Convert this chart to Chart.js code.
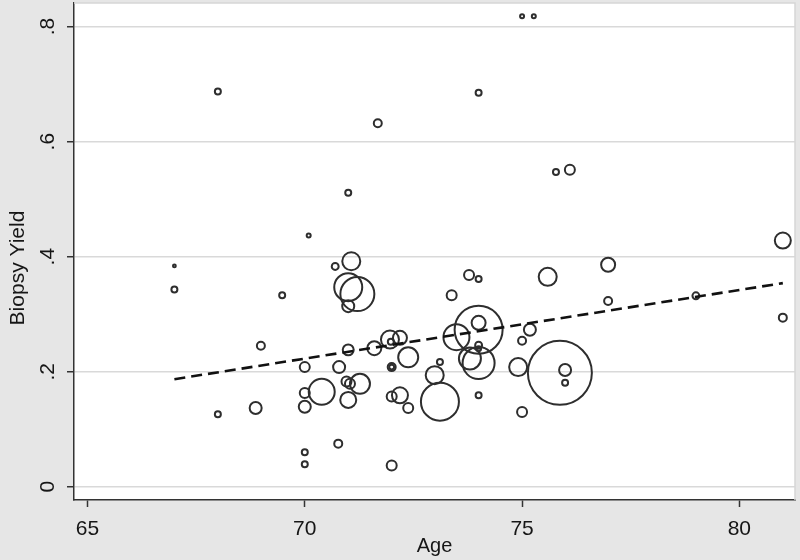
<!DOCTYPE html>
<html lang="en">
<head>
  <meta charset="UTF-8" />
  <title>Biopsy Yield by Age</title>
  <script src="https://cdn.jsdelivr.net/npm/chart.js"></script>
  <style>
    html, body { margin: 0; padding: 0; background: #e6e6e6; }
    #wrap { width: 800px; height: 560px; }
  </style>
</head>
<body>
  <div id="wrap"><canvas id="bubbleChart"></canvas></div>

  <script>
    // ages (x), biopsy yield (y) and bubble weight for each study
    const ages = [
      75.0, 75.27, 68.0, 74.0, 71.68, 75.78, 76.1, 71.0, 70.09, 67.0,
      81.0, 71.07, 70.7, 67.0, 69.48, 71.0, 71.21, 71.0, 73.78, 74.0,
      73.38, 75.59, 74.0, 74.0, 73.49, 75.18, 75.0, 74.0, 74.0, 73.8,
      74.0, 74.91, 73.11, 72.99, 75.87, 75.99, 75.99, 76.98, 76.98, 79.0,
      81.0, 73.11, 74.0, 75.0, 71.0, 71.6, 71.96, 72.19, 71.98, 70.0,
      70.79, 72.0, 72.0, 72.38, 70.0, 70.39, 70.96, 71.04, 71.27, 70.0,
      71.0, 72.0, 72.19, 72.38, 70.77, 70.0, 70.0, 72.0, 68.87, 68.0,
      68.99
    ];
    const yields = [
      0.818, 0.818, 0.687, 0.685, 0.632, 0.547, 0.551, 0.511, 0.437, 0.384,
      0.428, 0.392, 0.383, 0.343, 0.333, 0.347, 0.335, 0.314, 0.368, 0.361,
      0.333, 0.365, 0.273, 0.285, 0.260, 0.273, 0.254, 0.246, 0.240, 0.223,
      0.215, 0.208, 0.217, 0.194, 0.198, 0.203, 0.181, 0.386, 0.323, 0.332,
      0.294, 0.148, 0.159, 0.130, 0.238, 0.241, 0.256, 0.259, 0.252, 0.208,
      0.208, 0.208, 0.208, 0.225, 0.163, 0.165, 0.183, 0.179, 0.179, 0.139,
      0.151, 0.157, 0.159, 0.137, 0.075, 0.060, 0.039, 0.037, 0.137, 0.126,
      0.245
    ];
    const weights = [
      4, 4, 9, 9, 16, 9, 25, 9, 4, 2,
      64, 81, 12, 9, 9, 196, 289, 36, 25, 9,
      25, 81, 576, 49, 169, 36, 16, 12, 6, 121,
      256, 81, 9, 81, 1024, 36, 9, 49, 16, 12,
      16, 361, 9, 25, 30, 49, 81, 49, 9, 25,
      36, 16, 6, 100, 25, 169, 25, 25, 100, 36,
      64, 25, 64, 25, 16, 9, 9, 25, 36, 9,
      16
    ];

    // fitted line (weighted regression), end points
    const fitAges = [67, 81];
    const fitYields = [0.187, 0.354];

    const xTicks = [65, 70, 75, 80];
    const yTicks = [0, 0.2, 0.4, 0.6, 0.8];
    const yTickLabels = ['0', '.2', '.4', '.6', '.8'];

    const xTitle = 'Age';
    const yTitle = 'Biopsy Yield';

    const inkColor = '#161616';
    const fontFamily = '"Liberation Sans", Arial, sans-serif';

    const bubbles = ages.map((a, i) => ({ x: a, y: yields[i], r: Math.sqrt(weights[i]) }));
    const fitLine = fitAges.map((a, i) => ({ x: a, y: fitYields[i] }));

    // no extra label padding around the plot, the layout is fixed
    function noPad(s) {
      s.paddingLeft = 0;
      s.paddingRight = 0;
      s.paddingTop = 0;
      s.paddingBottom = 0;
    }

    // gray page, white plot region, light frame, rotated y labels and titles
    const stataLook = {
      id: 'stataLook',
      beforeDraw(chart) {
        const { ctx, chartArea: a } = chart;
        ctx.save();
        ctx.fillStyle = '#e6e6e6';
        ctx.fillRect(0, 0, chart.width, chart.height);
        ctx.fillStyle = '#ffffff';
        ctx.fillRect(a.left, a.top, a.right - a.left, a.bottom - a.top);
        ctx.restore();
      },
      afterDraw(chart) {
        const { ctx, chartArea: a, scales } = chart;
        ctx.save();
        // top and right frame lines
        ctx.strokeStyle = '#d6d6d6';
        ctx.lineWidth = 1.5;
        ctx.beginPath();
        ctx.moveTo(a.left, a.top);
        ctx.lineTo(a.right, a.top);
        ctx.lineTo(a.right, a.bottom);
        ctx.stroke();

        ctx.fillStyle = inkColor;
        ctx.textAlign = 'center';
        ctx.textBaseline = 'middle';

        // y tick labels, rotated
        ctx.font = '21px ' + fontFamily;
        yTicks.forEach((v, i) => {
          const py = scales.y.getPixelForValue(v);
          ctx.save();
          ctx.translate(48, py);
          ctx.rotate(-Math.PI / 2);
          ctx.fillText(yTickLabels[i], 0, 0);
          ctx.restore();
        });

        // axis titles
        ctx.save();
        ctx.translate(18, 268);
        ctx.rotate(-Math.PI / 2);
        ctx.fillText(yTitle, 0, 0);
        ctx.restore();

        ctx.font = '20px ' + fontFamily;
        ctx.fillText(xTitle, (a.left + a.right) / 2, 546);
        ctx.restore();
      }
    };

    new Chart(document.getElementById('bubbleChart'), {
      type: 'bubble',
      data: {
        datasets: [
          {
            type: 'line',
            data: fitLine,
            borderColor: '#111111',
            borderWidth: 2.6,
            borderDash: [11, 6],
            pointRadius: 0,
            fill: false,
            order: 0
          },
          {
            data: bubbles,
            backgroundColor: 'rgba(0,0,0,0)',
            borderColor: '#2e2e2e',
            borderWidth: 2,
            order: 1
          }
        ]
      },
      options: {
        responsive: true,
        maintainAspectRatio: false,
        animation: false,
        layout: { autoPadding: false, padding: { top: 3, right: 5, left: 0, bottom: 0 } },
        plugins: {
          legend: { display: false },
          tooltip: { enabled: false }
        },
        scales: {
          x: {
            type: 'linear',
            min: 64.69,
            max: 81.28,
            afterBuildTicks: s => { s.ticks = xTicks.map(v => ({ value: v })); },
            afterFit: s => { s.height = 60; noPad(s); },
            ticks: {
              color: inkColor,
              font: { family: fontFamily, size: 21 },
              padding: 10,
              maxRotation: 0
            },
            grid: {
              drawOnChartArea: false,
              drawTicks: true,
              tickLength: 7,
              tickColor: '#333333',
              tickWidth: 1.5
            },
            border: { color: '#333333', width: 1.5 }
          },
          y: {
            type: 'linear',
            min: -0.023,
            max: 0.841,
            afterBuildTicks: s => { s.ticks = yTicks.map(v => ({ value: v })); },
            afterFit: s => { s.width = 74; noPad(s); },
            ticks: { display: false },
            grid: {
              color: '#d9d9d9',
              lineWidth: 1.5,
              drawTicks: true,
              tickLength: 7,
              tickColor: '#333333',
              tickWidth: 1.5
            },
            border: { color: '#333333', width: 1.5 }
          }
        }
      },
      plugins: [stataLook]
    });
  </script>
</body>
</html>
